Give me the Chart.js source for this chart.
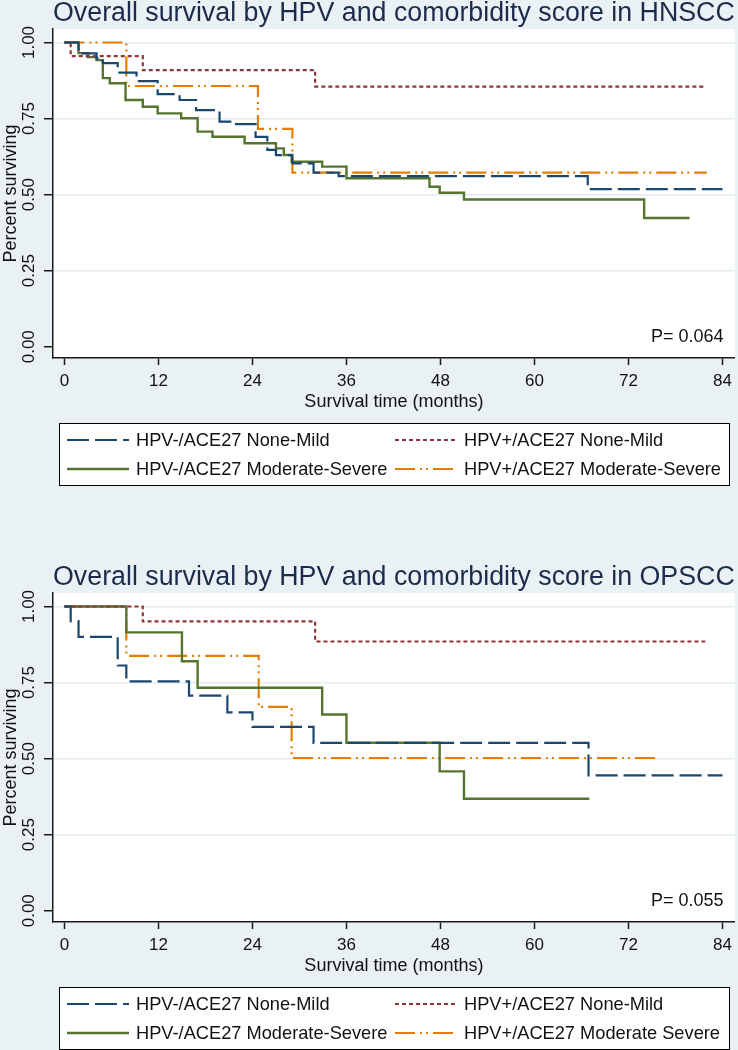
<!DOCTYPE html>
<html>
<head>
<meta charset="utf-8">
<script src="https://cdn.jsdelivr.net/npm/chart.js@4"></script>
<style>
  body { margin: 0; background: #eaf1f4; width: 738px; height: 1050px; overflow: hidden; position: relative; }
  .panel { position: absolute; left: 0; width: 738px; height: 486px; }
</style>
</head>
<body>
<div class="panel" style="top:0"><canvas id="hnscc" width="738" height="486"></canvas></div>
<div class="panel" style="top:564px"><canvas id="opscc" width="738" height="486"></canvas></div>
<script>
// ---- axes ----
const xTicks = [0, 12, 24, 36, 48, 60, 72, 84];
const yTicks = [0, 0.25, 0.5, 0.75, 1];

// ---- HNSCC (months / survival) ----
const hnNegMildT = [0, 1.8, 4.1, 4.9, 6.8, 9.2, 11.9, 14.7, 16.8, 19.8, 21.4, 24.4, 25.9, 27.0, 29.1, 31.8, 35.0, 66.8, 84];
const hnNegMildS = [1, 0.964, 0.948, 0.932, 0.901, 0.873, 0.830, 0.811, 0.778, 0.740, 0.732, 0.690, 0.647, 0.630, 0.603, 0.572, 0.561, 0.518, 0.518];
const hnPosMildT = [0, 0.8, 10.0, 32.0, 81.8];
const hnPosMildS = [1, 0.955, 0.909, 0.855, 0.855];
const hnNegSevT = [0, 1.8, 3.0, 4.1, 4.9, 5.8, 7.8, 10.0, 11.9, 14.9, 17.0, 18.9, 23.0, 27.0, 28.0, 29.0, 32.9, 36.0, 46.6, 47.9, 51.0, 74.0, 79.8];
const hnNegSevS = [1, 0.965, 0.952, 0.942, 0.883, 0.866, 0.811, 0.789, 0.767, 0.751, 0.707, 0.690, 0.669, 0.652, 0.630, 0.608, 0.592, 0.554, 0.526, 0.506, 0.484, 0.423, 0.423];
const hnPosSevT = [0, 7.9, 24.7, 29.1, 82.0];
const hnPosSevS = [1, 0.857, 0.716, 0.572, 0.572];

// ---- OPSCC ----
const opNegMildT = [0, 0.8, 1.8, 6.8, 7.9, 15.9, 20.8, 24.0, 31.8, 66.9, 84];
const opNegMildS = [1, 0.952, 0.900, 0.806, 0.754, 0.707, 0.652, 0.604, 0.552, 0.445, 0.445];
const opPosMildT = [0, 10.0, 32.0, 81.8];
const opPosMildS = [1, 0.951, 0.885, 0.885];
const opNegSevT = [0, 7.9, 15.0, 17.0, 32.9, 36.0, 47.9, 51.0, 67.0];
const opNegSevS = [1, 0.915, 0.820, 0.733, 0.645, 0.552, 0.458, 0.368, 0.368];
const opPosSevT = [0, 7.9, 24.8, 29.0, 76.0];
const opPosSevS = [1, 0.838, 0.670, 0.502, 0.502];

const hnLabels = ['HPV-/ACE27 None-Mild', 'HPV+/ACE27 None-Mild', 'HPV-/ACE27 Moderate-Severe', 'HPV+/ACE27 Moderate-Severe'];
const opLabels = ['HPV-/ACE27 None-Mild', 'HPV+/ACE27 None-Mild', 'HPV-/ACE27 Moderate-Severe', 'HPV+/ACE27 Moderate Severe'];

const FONT = "'Liberation Sans', Arial, sans-serif";
const INK = '#111';
const AXIS = '#1a1a1a';

// stata s2color-ish line styles
const lineStyles = [
  { color: '#1a476f', dash: [22, 6], width: 2.2 },
  { color: '#90353b', dash: [4, 3], width: 2.2 },
  { color: '#55752f', dash: [], width: 2.4 },
  { color: '#e37e00', dash: [20, 5, 2, 4, 2, 5], width: 2.2 }
];

function kmPoints(t, s) {
  return t.map((x, i) => ({ x, y: s[i] }));
}

// white plot region, rotated y labels, p-value, boxed legend
const stataPlugin = {
  id: 'stata',
  beforeDraw(chart) {
    const { ctx, chartArea: a } = chart;
    ctx.save();
    ctx.fillStyle = '#fff';
    ctx.fillRect(a.left, a.top, a.right - a.left, a.bottom - a.top);
    ctx.restore();
  },
  afterDraw(chart, _args, opts) {
    const { ctx } = chart;
    const xs = chart.scales.x, ys = chart.scales.y;
    ctx.save();

    // y tick labels (vertical)
    ctx.fillStyle = INK;
    ctx.font = `17px ${FONT}`;
    ctx.textAlign = 'center';
    ctx.textBaseline = 'alphabetic';
    yTicks.forEach(v => {
      ctx.save();
      ctx.translate(33.5, ys.getPixelForValue(v));
      ctx.rotate(-Math.PI / 2);
      ctx.fillText(v.toFixed(2), 0, 0);
      ctx.restore();
    });

    // p-value
    ctx.font = `18px ${FONT}`;
    ctx.textAlign = 'right';
    ctx.fillText(opts.pText, xs.getPixelForValue(84) + 1, 341.5);

    // legend box
    const bx = 59.5, by = 423.5, bw = 670, bh = 62;
    ctx.fillStyle = '#fff';
    ctx.fillRect(bx, by, bw, bh);
    ctx.strokeStyle = '#000';
    ctx.lineWidth = 1;
    ctx.strokeRect(bx, by, bw, bh);

    const colX = [67, 395];
    const rowY = [440, 469];
    chart.data.datasets.forEach((ds, i) => {
      const x0 = colX[i % 2], y0 = rowY[Math.floor(i / 2)];
      ctx.save();
      ctx.strokeStyle = ds.borderColor;
      ctx.lineWidth = ds.borderWidth;
      ctx.setLineDash(ds.borderDash);
      ctx.beginPath();
      ctx.moveTo(x0, y0);
      ctx.lineTo(x0 + 62, y0);
      ctx.stroke();
      ctx.restore();

      ctx.save();
      ctx.fillStyle = INK;
      ctx.font = `19px ${FONT}`;
      ctx.textAlign = 'left';
      ctx.textBaseline = 'middle';
      ctx.translate(x0 + 69, y0 + 1);
      ctx.scale(0.96, 1);
      ctx.fillText(ds.label, 0, 0);
      ctx.restore();
    });
    ctx.restore();
  }
};

function renderKM(canvas, titulo, labels, series, pText) {
  const datasets = series.map((s, i) => ({
    label: labels[i],
    data: kmPoints(s[0], s[1]),
    borderColor: lineStyles[i].color,
    borderDash: lineStyles[i].dash,
    borderWidth: lineStyles[i].width,
    stepped: 'before',
    pointRadius: 0,
    fill: false
  }));

  return new Chart(canvas.getContext('2d'), {
    type: 'line',
    data: { datasets },
    options: {
      responsive: false,
      animation: false,
      events: [],
      layout: { padding: { top: 0, left: 0, right: 0, bottom: 63 } },
      plugins: {
        legend: { display: false },
        tooltip: { enabled: false },
        title: {
          display: true,
          text: titulo,
          fullSize: false,
          color: '#1c2b4b',
          font: { family: FONT, size: 27, weight: 'normal', lineHeight: 1 },
          padding: { top: 0, bottom: 2 }
        },
        stata: { pText }
      },
      scales: {
        x: {
          type: 'linear',
          min: -1.46,
          max: 85.57,
          afterBuildTicks: (axis) => { axis.ticks = xTicks.map(v => ({ value: v })); },
          afterFit: (axis) => { axis.height = 65; },
          grid: { drawOnChartArea: false, drawTicks: true, tickLength: 7, tickColor: AXIS, tickWidth: 1.5 },
          border: { display: true, color: AXIS, width: 1.5 },
          ticks: { color: INK, font: { family: FONT, size: 17 }, padding: 6, maxRotation: 0 },
          title: {
            display: true,
            text: 'Survival time (months)',
            color: INK,
            font: { family: FONT, size: 18 },
            padding: { top: 0, bottom: 10 }
          }
        },
        y: {
          type: 'linear',
          min: -0.0371,
          max: 1.0444,
          afterBuildTicks: (axis) => { axis.ticks = yTicks.map(v => ({ value: v })); },
          afterFit: (axis) => { axis.width = 53; },
          grid: {
            color: (c) => (c.tick && c.tick.value === 0) ? 'rgba(0,0,0,0)' : '#e3ecf0',
            lineWidth: 1.5,
            drawTicks: true,
            tickLength: 9,
            tickColor: AXIS,
            tickWidth: 1.5
          },
          border: { display: true, color: AXIS, width: 1.5 },
          ticks: { display: false },
          title: {
            display: true,
            text: 'Percent surviving',
            color: INK,
            font: { family: FONT, size: 18 },
            padding: { top: 0, bottom: 0 }
          }
        }
      }
    },
    plugins: [stataPlugin]
  });
}

renderKM(document.getElementById('hnscc'),
  'Overall survival by HPV and comorbidity score in HNSCC', hnLabels,
  [[hnNegMildT, hnNegMildS], [hnPosMildT, hnPosMildS], [hnNegSevT, hnNegSevS], [hnPosSevT, hnPosSevS]],
  'P= 0.064');

renderKM(document.getElementById('opscc'),
  'Overall survival by HPV and comorbidity score in OPSCC', opLabels,
  [[opNegMildT, opNegMildS], [opPosMildT, opPosMildS], [opNegSevT, opNegSevS], [opPosSevT, opPosSevS]],
  'P= 0.055');
</script>
</body>
</html>
